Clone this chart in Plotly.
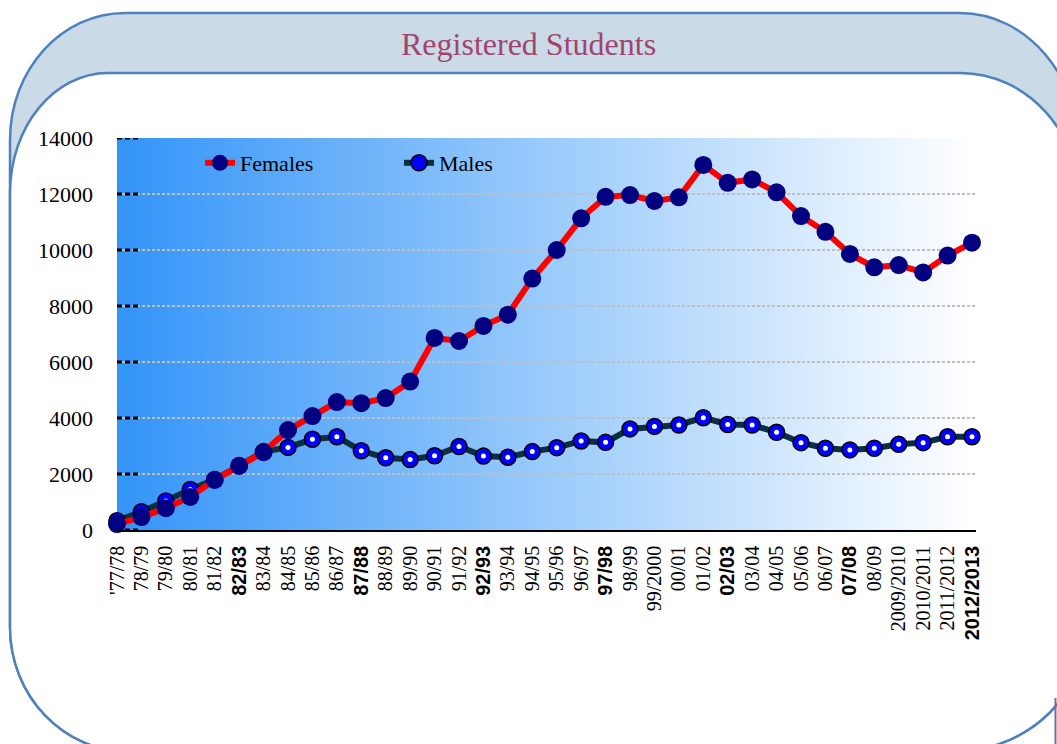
import base64
import plotly.graph_objects as go

# Data
years = ["'77/78", "78/79", "79/80", "80/81", "81/82", "82/83", "83/84", "84/85", "85/86",
         "86/87", "87/88", "88/89", "89/90", "90/91", "91/92", "92/93", "93/94", "94/95",
         "95/96", "96/97", "97/98", "98/99", "99/2000", "00/01", "01/02", "02/03", "03/04",
         "04/05", "05/06", "06/07", "07/08", "08/09", "2009/2010", "2010/2011", "2011/2012",
         "2012/2013"]
bold_years = ["82/83", "87/88", "92/93", "97/98", "02/03", "07/08", "2012/2013"]

females = [210, 460, 780, 1180, 1790, 2290, 2780, 3570, 4070, 4570, 4530, 4710, 5300, 6860,
           6750, 7290, 7690, 8980, 10000, 11130, 11900, 11960, 11750, 11880, 13040, 12400,
           12520, 12060, 11210, 10650, 9860, 9380, 9460, 9200, 9800, 10260]
males = [330, 650, 1040, 1450, 1800, 2300, 2800, 2950, 3240, 3330, 2830, 2580, 2520, 2650,
         2980, 2640, 2600, 2800, 2940, 3180, 3130, 3610, 3700, 3750, 4010, 3770, 3750, 3490,
         3120, 2920, 2860, 2920, 3060, 3120, 3330, 3330]

y_ticks = [0, 2000, 4000, 6000, 8000, 10000, 12000, 14000]

# page geometry, in screen pixels of the 1057x744 window (body margin removed below)
W, H = 1057, 744
L, R, T, B = 117, 976, 138, 530
SERIF = "Liberation Serif, Times New Roman, serif"


def px(x):
    return (x - L) / (R - L)


def py(y):
    return (B - y) / (B - T)


def rounded_path(x0, y0, x1, y1, tl, tr, br, bl):
    k = 0.5523

    def p(x, y):
        return f"{px(x):.5f},{py(y):.5f}"

    pts = [
        f"M{p(x0 + tl[0], y0)}",
        f"L{p(x1 - tr[0], y0)}",
        f"C{p(x1 - tr[0] + k * tr[0], y0)} {p(x1, y0 + tr[1] - k * tr[1])} {p(x1, y0 + tr[1])}",
        f"L{p(x1, y1 - br[1])}",
        f"C{p(x1, y1 - br[1] + k * br[1])} {p(x1 - br[0] + k * br[0], y1)} {p(x1 - br[0], y1)}",
        f"L{p(x0 + bl[0], y1)}",
        f"C{p(x0 + bl[0] - k * bl[0], y1)} {p(x0, y1 - bl[1] + k * bl[1])} {p(x0, y1 - bl[1])}",
        f"L{p(x0, y0 + tl[1])}",
        f"C{p(x0, y0 + tl[1] - k * tl[1])} {p(x0 + tl[0] - k * tl[0], y0)} {p(x0 + tl[0], y0)} Z",
    ]
    return " ".join(pts)


def tick_label(s):
    if s in bold_years:
        return f"<span style='font-family:Liberation Sans Narrow, Arial Narrow, sans-serif'><b>{s}</b></span>"
    return s


x_idx = list(range(len(years)))
x_max = len(years) - 1 + 4 / ((R - L - 4) / (len(years) - 1))

fig = go.Figure()

# Males first so the female line sits on top
fig.add_trace(go.Scatter(
    x=x_idx, y=males, name="Males", mode="lines+markers",
    line=dict(color="#0A2E44", width=6),
    marker=dict(size=16, color="#0000FF", line=dict(color="#000000", width=1.5)),
    cliponaxis=False, legendgroup="m", legendrank=2,
))
fig.add_trace(go.Scatter(
    x=x_idx, y=males, mode="markers", showlegend=False, hoverinfo="skip",
    marker=dict(size=5, color="white"), cliponaxis=False, legendgroup="m",
))
fig.add_trace(go.Scatter(
    x=x_idx, y=females, name="Females", mode="lines+markers",
    line=dict(color="#FF0000", width=6),
    marker=dict(size=18, color="#000080"),
    cliponaxis=False, legendrank=1,
))

# gradient background of the plot area
svg = ("<svg xmlns='http://www.w3.org/2000/svg' width='400' height='10' preserveAspectRatio='none'>"
       "<defs><linearGradient id='g' x1='0' y1='0' x2='1' y2='0'>"
       "<stop offset='0' stop-color='#3394F8'/><stop offset='0.5' stop-color='#9ACBFB'/>"
       "<stop offset='1' stop-color='#FFFFFF'/></linearGradient></defs>"
       "<rect width='400' height='10' fill='url(#g)'/></svg>")
src = "data:image/svg+xml;base64," + base64.b64encode(svg.encode()).decode()

shapes = [
    dict(type="path", xref="paper", yref="paper", layer="below",
         path=rounded_path(10, 13, 1080, 752, (115, 127), (120, 140), (130, 110), (120, 125)),
         fillcolor="#CADAE6", line=dict(color="#4F81BD", width=2.5)),
    dict(type="path", xref="paper", yref="paper", layer="below",
         path=rounded_path(10, 73, 1080, 752, (98, 120), (120, 130), (130, 110), (120, 125)),
         fillcolor="white", line=dict(color="#4F81BD", width=2.5)),
    dict(type="line", xref="paper", yref="paper", layer="below",
         x0=px(1055.5), x1=px(1055.5), y0=py(698), y1=py(760),
         line=dict(color="#8064A2", width=2)),
]
for v in y_ticks:
    shapes.append(dict(type="line", xref="x", yref="y", layer="between",
                       x0=0, x1=21 / ((R - L) / x_max), y0=v, y1=v,
                       line=dict(color="black", width=3, dash="5px,3px")))

fig.update_layout(
    width=W, height=H,
    margin=dict(l=L, r=W - R, t=T, b=H - B),
    paper_bgcolor="white",
    plot_bgcolor="rgba(0,0,0,0)",
    shapes=shapes,
    images=[dict(source=src, xref="x", yref="y", x=0, y=14000, sizex=x_max, sizey=14000,
                 xanchor="left", yanchor="top", sizing="stretch", layer="below")],
    annotations=[dict(text="Registered Students", xref="paper", yref="paper",
                      x=px(528), y=py(44), showarrow=False, xanchor="center", yanchor="middle",
                      font=dict(family=SERIF, size=32, color="#A3436F"))],
    legend=dict(orientation="h", x=px(200), y=py(163), xanchor="left", yanchor="middle",
                bgcolor="rgba(0,0,0,0)", font=dict(family=SERIF, size=22, color="black"),
                entrywidth=154, entrywidthmode="pixels"),
    font=dict(family=SERIF, color="black"),
    showlegend=True,
)

fig.update_xaxes(
    range=[0, x_max], tickvals=x_idx, ticktext=[tick_label(s) for s in years],
    tickangle=-90, tickfont=dict(family=SERIF, size=20, color="black"),
    showgrid=False, zeroline=False, showline=True, linecolor="black", linewidth=1.5,
    ticks="", ticklabelstandoff=6,
)
fig.update_yaxes(
    range=[0, 14000], tickvals=y_ticks, ticktext=[str(v) for v in y_ticks],
    tickfont=dict(family=SERIF, size=22, color="black"),
    showgrid=True, gridcolor="#BFBFBF", gridwidth=2, griddash="3px,2px",
    zeroline=False, showline=False, ticks="", ticklabelstandoff=23,
)

fig.write_html(
    "out.html",
    config={"displayModeBar": False},
    post_script="document.body.style.margin='0';document.documentElement.style.overflow='hidden';",
)
